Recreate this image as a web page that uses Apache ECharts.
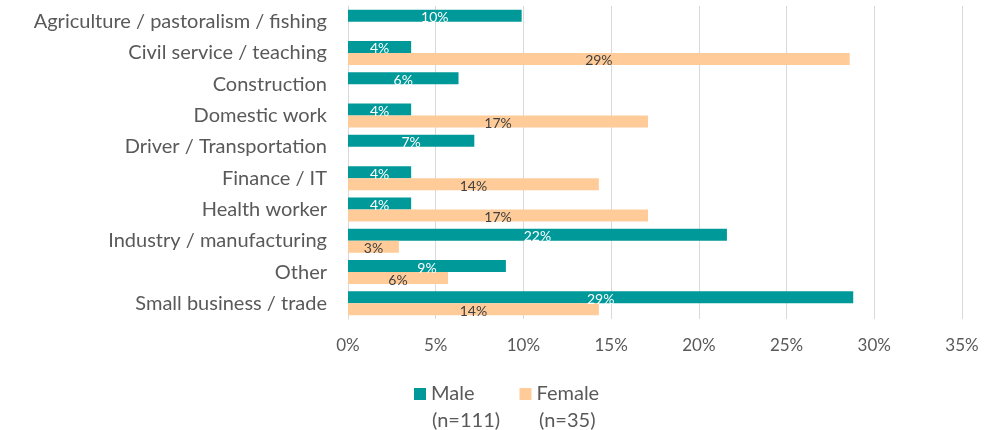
<!DOCTYPE html>
<html>
<head>
<meta charset="utf-8">
<script src="https://cdn.jsdelivr.net/npm/echarts@6/dist/echarts.min.js"></script>
<style>
  html, body { margin: 0; padding: 0; background: #fff; }
  #chart-container { width: 1001px; height: 430px; }
</style>
</head>
<body>
<div id="chart-container"></div>
<script>
var categories = [
  'Agriculture / pastoralism / fishing',
  'Civil service / teaching',
  'Construction',
  'Domestic work',
  'Driver / Transportation',
  'Finance / IT',
  'Health worker',
  'Industry / manufacturing',
  'Other',
  'Small business / trade'
];
// percent of respondents, null where no bar is drawn
var maleValues = [9.9, 3.6, 6.3, 3.6, 7.2, 3.6, 3.6, 21.6, 9.0, 28.8];
var femaleValues = [null, 28.6, null, 17.1, null, 14.3, 17.1, 2.9, 5.7, 14.3];
var seriesNames = ['Male', 'Female'];
var sampleSizes = ['(n=111)', '(n=35)'];
var xTicks = [0, 5, 10, 15, 20, 25, 30, 35];

var dom = document.getElementById('chart-container');
var myChart = echarts.init(dom, null, { renderer: 'canvas' });

var fontFamily = 'Lato, "Open Sans", sans-serif';
var textGray = '#595959';

var option = {
  animation: false,
  textStyle: { fontFamily: fontFamily },
  grid: { left: 348, right: 39, top: 6, bottom: 111, containLabel: false },
  legend: {
    data: seriesNames,
    left: 414,
    top: 384,
    padding: 0,
    itemWidth: 12,
    itemHeight: 12,
    itemGap: 45,
    icon: 'rect',
    textStyle: { color: textGray, fontSize: 20, fontFamily: fontFamily }
  },
  // second line of each legend entry
  graphic: [
    { type: 'text', left: 432, top: 411, style: { text: sampleSizes[0], fill: textGray, font: '20px ' + fontFamily } },
    { type: 'text', left: 539, top: 411, style: { text: sampleSizes[1], fill: textGray, font: '20px ' + fontFamily } }
  ],
  xAxis: {
    type: 'value',
    min: xTicks[0],
    max: xTicks[xTicks.length - 1],
    interval: 5,
    axisLine: { show: false },
    axisTick: { show: false },
    splitLine: { lineStyle: { color: '#d9d9d9', width: 1 } },
    axisLabel: {
      color: textGray,
      fontSize: 17,
      margin: 18,
      formatter: '{value}%'
    }
  },
  yAxis: {
    type: 'category',
    data: categories,
    inverse: true,
    axisLine: { show: true, lineStyle: { color: '#d9d9d9' } },
    axisTick: { show: false },
    axisLabel: { color: textGray, fontSize: 20, margin: 21 }
  },
  series: [
    {
      name: seriesNames[0],
      type: 'bar',
      data: maleValues,
      barWidth: 12,
      barGap: '0%',
      itemStyle: { color: '#009999' },
      label: {
        show: true,
        position: 'inside',
        color: '#ffffff',
        fontSize: 14,
        offset: [0, 2],
        formatter: function (p) { return Math.round(p.value) + '%'; }
      }
    },
    {
      name: seriesNames[1],
      type: 'bar',
      data: femaleValues,
      barWidth: 12,
      barGap: '0%',
      itemStyle: { color: '#ffcc99' },
      label: {
        show: true,
        position: 'inside',
        color: '#404040',
        fontSize: 14,
        offset: [0, 2],
        formatter: function (p) { return Math.round(p.value) + '%'; }
      }
    }
  ]
};

myChart.setOption(option);
window.addEventListener('resize', myChart.resize);
</script>
</body>
</html>
